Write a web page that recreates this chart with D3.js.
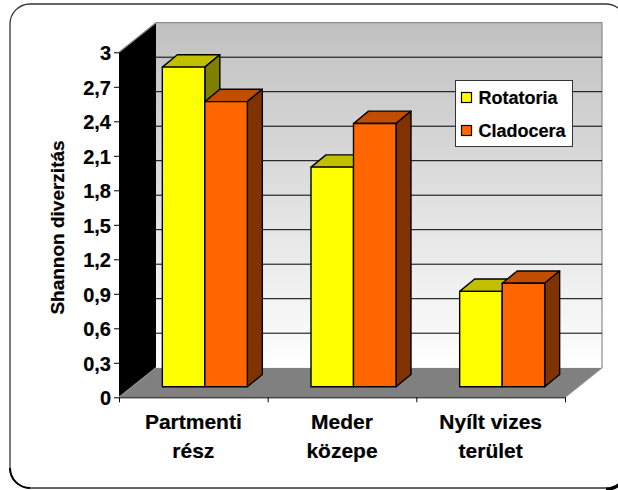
<!DOCTYPE html>
<html><head><meta charset="utf-8">
<script src="https://cdnjs.cloudflare.com/ajax/libs/d3/7.8.5/d3.min.js"></script>
<style>html,body{margin:0;padding:0;background:#fff;overflow:hidden}svg{display:block}text{font-family:"Liberation Sans",Arial,sans-serif;font-weight:bold;fill:#000;stroke:#000;stroke-width:.2px}</style>
</head><body><script>
const categories = [["Partmenti","rész"],["Meder","közepe"],["Nyílt vizes","terület"]];
const seriesNames = ["Rotatoria","Cladocera"];
const rotatoria = [2.78,1.91,0.83];
const cladocera = [2.48,2.29,0.90];
const yTicks = [0,0.3,0.6,0.9,1.2,1.5,1.8,2.1,2.4,2.7,3];
const faceColors = ["#ffff00","#ff6600"];
const topColors = ["#c0c000","#c04d00"];
const sideColors = ["#808000","#803300"];

const W=618,H=490;
const svg=d3.select("body").append("svg").attr("width",W).attr("height",H);
const defs=svg.append("defs");
const gr=defs.append("linearGradient").attr("id","wall").attr("x1",0).attr("x2",0).attr("y1",0).attr("y2",1);
gr.append("stop").attr("offset",0).attr("stop-color","#c0c0c0");
gr.append("stop").attr("offset",1).attr("stop-color","#ffffff");

// frame
svg.append("rect").attr("x",10).attr("y",4).attr("width",616).attr("height",484).attr("rx",20).attr("fill","#fff").attr("stroke","#333").attr("stroke-width",1.3);
svg.append("path").attr("d","M10,468A20,20 0 0 0 30,488").attr("fill","none").attr("stroke","#000").attr("stroke-width",2);
svg.append("path").attr("d","M606,489A20,20 0 0 0 622,482").attr("fill","none").attr("stroke","#000").attr("stroke-width",3.2);

const x0=119,x1=565,yB=397.3,yT=52.3,dx=37,dy=29.6;
const y=d3.scaleLinear().domain([0,3]).range([yB,yT]);
const xLin=d3.scaleLinear().domain([0,3]).range([x0,x1]);
const band=d3.scaleBand().domain(d3.range(3)).range([x0,x1]);
const ser=d3.scaleBand().domain([0,1]).range([0,85]);
const line=d3.line();

// walls
svg.append("path").attr("d",line([[x0,yT],[x0+dx,yT-dy],[x0+dx,yB-dy],[x0,yB]])+"Z").attr("fill","#000");
svg.append("path").attr("d",line([[x0,yB],[x0+dx,yB-dy],[x1+dx,yB-dy],[x1,yB]])+"Z").attr("fill","#808080");
svg.append("rect").attr("x",x0+dx).attr("y",yT-dy).attr("width",x1-x0).attr("height",yB-yT).attr("fill","url(#wall)");
svg.append("path").attr("d",line([[x0,yT],[x0+dx,yT-dy],[x1+dx,yT-dy],[x1+dx,yB-dy],[x1,yB]])).attr("fill","none").attr("stroke","#8c8c8c").attr("stroke-width",1.2);
svg.append("path").attr("d",line([[x0,yB],[x0+dx,yB-dy]])).attr("fill","none").attr("stroke","#8c8c8c").attr("stroke-width",1.2);
svg.append("g").selectAll("line").data(yTicks.slice(1,-1)).join("line")
 .attr("x1",x0+dx).attr("x2",x1+dx).attr("y1",d=>y(d)-dy).attr("y2",d=>y(d)-dy).attr("stroke","#000").attr("stroke-width",1);

// bars
const bx=11.5,by=10.5,bdx=15,bdy=12.3;
const barG=svg.append("g").attr("stroke","#000").attr("stroke-width",1.4).attr("stroke-linejoin","round");
const barData=[];
categories.forEach((c,i)=>{[rotatoria,cladocera].forEach((s,j)=>barData.push({i,j,v:s[i]}))});
barData.forEach(d=>{
  const l=band(d.i)+(band.bandwidth()-85)/2+ser(d.j)+bx, r=l+ser.bandwidth(), t=y(d.v)-by, b=yB-by;
  barG.append("path").attr("d",line([[l,t],[l+bdx,t-bdy],[r+bdx,t-bdy],[r,t]])+"Z").attr("fill",topColors[d.j]);
  barG.append("path").attr("d",line([[r,t],[r+bdx,t-bdy],[r+bdx,b-bdy],[r,b]])+"Z").attr("fill",sideColors[d.j]);
  barG.append("rect").attr("x",l).attr("y",t).attr("width",r-l).attr("height",b-t).attr("fill",faceColors[d.j]);
});

// axes
const ya=svg.append("g").attr("transform",`translate(${x0},0)`)
 .call(d3.axisLeft(y).tickValues(yTicks).tickSize(5).tickPadding(3).tickFormat(d=>String(d).replace(".",",")));
ya.select(".domain").remove();
ya.selectAll("text").style("font-size","20px").attr("dy","0.36em");
const xa=svg.append("g").attr("transform",`translate(0,${yB})`)
 .call(d3.axisBottom(xLin).tickValues(d3.range(4)).tickSize(5).tickSizeOuter(0).tickFormat(""));
xa.select(".domain").attr("stroke","#000");

svg.append("g").selectAll("g").data(categories).join("g").each(function(c,i){
  const g=d3.select(this);
  c.forEach((t,k)=>g.append("text").attr("x",band(i)+band.bandwidth()/2).attr("y",429+k*29).attr("text-anchor","middle").style("font-size","21px").text(t));
});
svg.append("text").attr("transform","translate(64,227.5) rotate(-90)").attr("text-anchor","middle").style("font-size","19px").text("Shannon diverzitás");

// legend
const lg=svg.append("g");
lg.append("rect").attr("x",455.5).attr("y",80.5).attr("width",117).attr("height",66).attr("fill","#fff").attr("stroke","#333");
seriesNames.forEach((n,i)=>{
  lg.append("rect").attr("x",461.5).attr("y",92.5+i*33).attr("width",10).attr("height",10).attr("fill",faceColors[i]).attr("stroke","#000").attr("stroke-width",1.2);
  lg.append("text").attr("x",478.5).attr("y",104+i*32.5).style("font-size","18px").text(n);
});
</script></body></html>
